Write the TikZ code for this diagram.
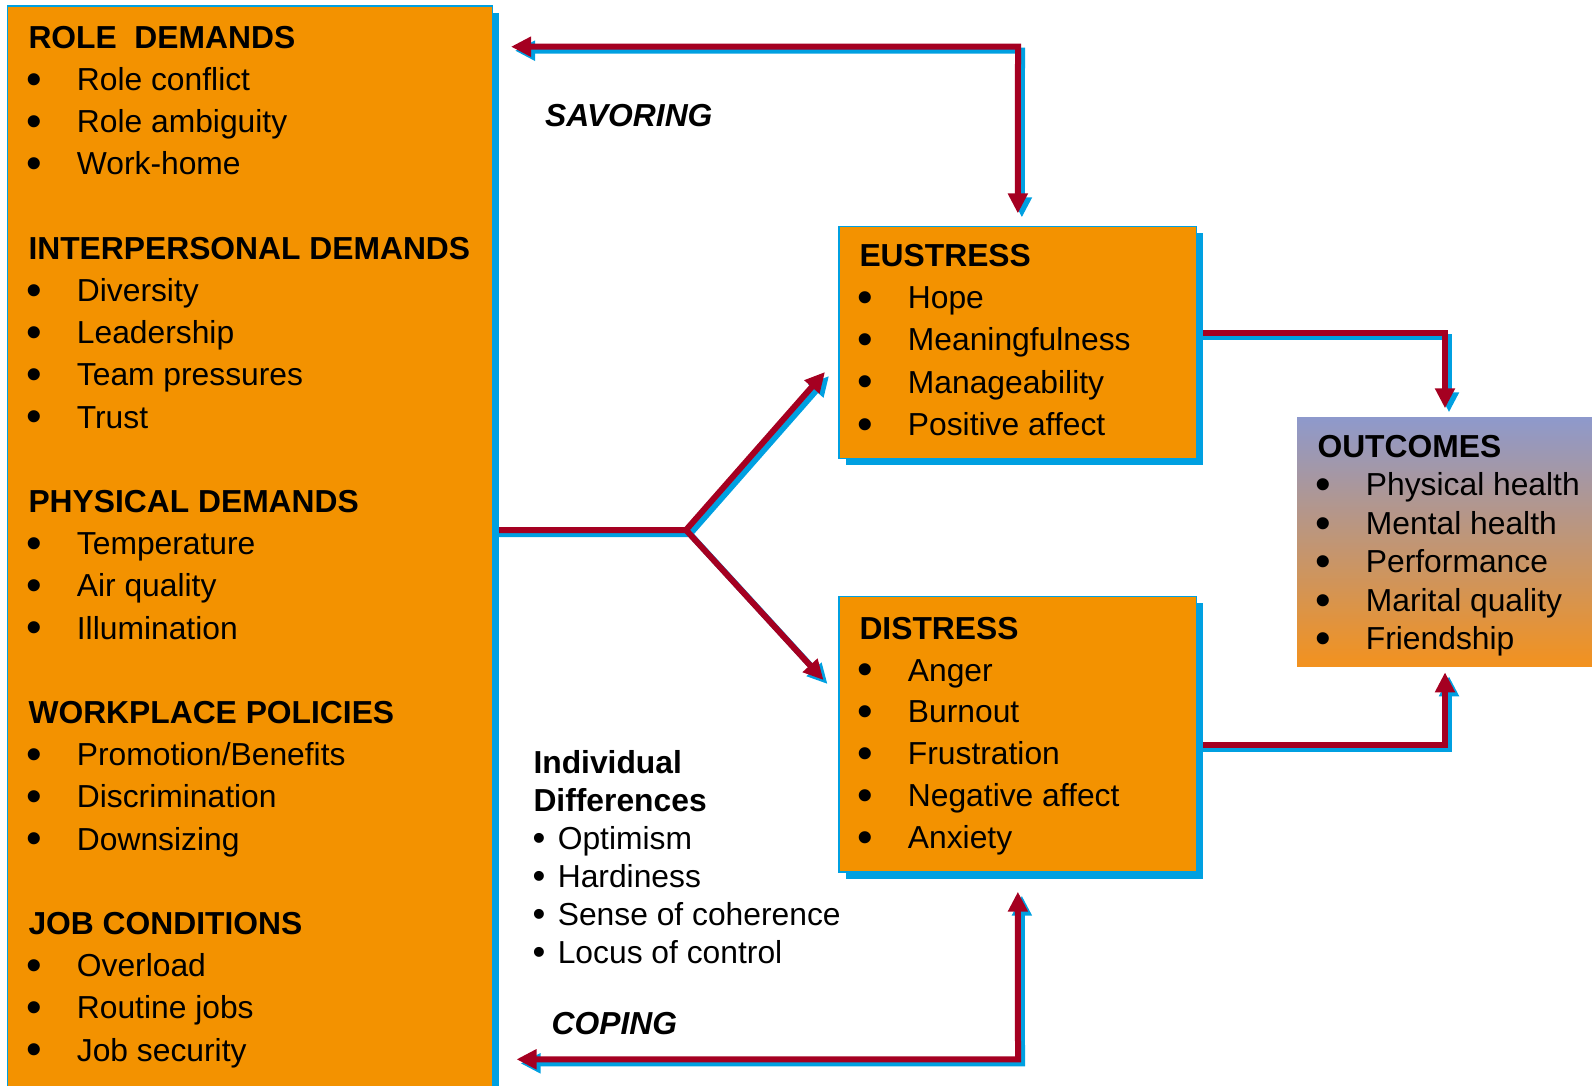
\documentclass[tikz,border=0pt]{standalone}
\usepackage{fontspec}
\setmainfont{Liberation Sans}
\usetikzlibrary{arrows.meta,shadows}

\definecolor{boxorange}{RGB}{243,146,0}
\definecolor{edgeblue}{RGB}{0,160,225}
\definecolor{linkred}{RGB}{165,0,33}
\definecolor{outtop}{RGB}{142,153,204}
\definecolor{outbot}{RGB}{243,146,30}

\pgfdeclarelayer{back}
\pgfsetlayers{back,main}

% enlarged bullets followed by a tab stop
\newcommand\bul{\hspace*{-2.2pt}\smash{\raisebox{-0.12em}{\scalebox{1.4}{•}}}}
\newcommand\sbul{\hspace*{-1pt}\smash{\raisebox{-0.05em}{\scalebox{1.15}{•}}}}
\newcommand\itm{\makebox[48.4pt][l]{\bul}}
\newcommand\sitm{\makebox[24.3pt][l]{\sbul}}

\begin{document}
\begin{tikzpicture}[x=1pt,y=-1pt,
  >={Triangle[length=20pt,width=19pt]},
  every node/.style={font=\fontsize{31.8}{38}\selectfont},
  txt/.style={inner sep=0pt, anchor=base west},
  label/.style={txt, font=\fontsize{31.8}{38}\selectfont\bfseries\itshape},
  panel/.style={draw=edgeblue, line width=1.5pt, fill=boxorange,
    inner sep=0pt, outer sep=0pt, anchor=north west,
    copy shadow={shadow xshift=6.5pt, shadow yshift=-6.5pt, fill=edgeblue, draw=none}},
  result/.style={draw=none, top color=outtop, bottom color=outbot,
    inner sep=0pt, outer sep=0pt, anchor=north west},
  link/.style={draw=linkred, line width=6pt},
  linkshade/.style={draw=edgeblue, line width=6pt, transform canvas={shift={(4pt,-4pt)}}},
]
\useasboundingbox (0,0) rectangle (1592,1085);
\clip (0,0) rectangle (1592,1085);

% boxes
\node[panel, minimum width=485pt, minimum height=1094pt] (demands) at (7.5,6) {};
\node[panel, minimum width=357.7pt, minimum height=232pt] (eustress) at (839,226.4) {};
\node[panel, minimum width=357.7pt, minimum height=275.3pt] (distress) at (839,596.7) {};
\node[result, minimum width=296pt, minimum height=249.4pt] (outcomes) at (1297,417.3) {};

% stressor list
\foreach \k/\entry in {
  0/{\bfseries ROLE\ \ DEMANDS}, 1/{\itm Role conflict}, 2/{\itm Role ambiguity}, 3/{\itm Work-home},
  5/{\bfseries INTERPERSONAL DEMANDS}, 6/{\itm Diversity}, 7/{\itm Leadership}, 8/{\itm Team pressures}, 9/{\itm Trust},
  11/{\bfseries PHYSICAL DEMANDS}, 12/{\itm Temperature}, 13/{\itm Air quality}, 14/{\itm Illumination},
  16/{\bfseries WORKPLACE POLICIES}, 17/{\itm Promotion/Benefits}, 18/{\itm Discrimination}, 19/{\itm Downsizing},
  21/{\bfseries JOB CONDITIONS}, 22/{\itm Overload}, 23/{\itm Routine jobs}, 24/{\itm Job security}}
  \node[txt] (dem-\k) at (28.3,{48.3+42.2*\k}) {\entry};

% eustress list
\foreach \k/\entry in {0/{\bfseries EUSTRESS}, 1/{\itm Hope}, 2/{\itm Meaningfulness},
  3/{\itm Manageability}, 4/{\itm Positive affect}}
  \node[txt] (eu-\k) at (859.3,{266.2+42.3*\k}) {\entry};

% distress list
\foreach \k/\entry in {0/{\bfseries DISTRESS}, 1/{\itm Anger}, 2/{\itm Burnout},
  3/{\itm Frustration}, 4/{\itm Negative affect}, 5/{\itm Anxiety}}
  \node[txt] (dis-\k) at (859.3,{639.3+41.8*\k}) {\entry};

% outcomes list
\foreach \k/\entry in {0/{\bfseries OUTCOMES}, 1/{\itm Physical health}, 2/{\itm Mental health},
  3/{\itm Performance}, 4/{\itm Marital quality}, 5/{\itm Friendship}}
  \node[txt] (out-\k) at (1317.3,{457.3+38.5*\k}) {\entry};

% individual differences
\foreach \k/\entry in {0/{\bfseries Individual}, 1/{\bfseries Differences}, 2/{\sitm Optimism},
  3/{\sitm Hardiness}, 4/{\sitm Sense of coherence}, 5/{\sitm Locus of control}}
  \node[txt] (ind-\k) at (533.3,{773.3+38*\k}) {\entry};

\node[label] (savoring) at (545,126.5) {SAVORING};
\node[label] (coping) at (551.4,1034) {COPING};

% connector routing points
\coordinate (sav) at (1018,46.7);
\coordinate (cop) at (1018,1059.3);
\coordinate (fork) at (686,530);
\coordinate (eutip) at (825,372);
\coordinate (distip) at (823.5,680);

\begin{pgfonlayer}{back}
  % savoring loop
  \draw[linkshade,<->,shorten <=18.5pt,shorten >=13pt] (demands.east |- sav) -- (sav) -- (eustress.north);
  \draw[link,<->,shorten <=18.5pt,shorten >=13pt] (demands.east |- sav) -- (sav) -- (eustress.north);
  % coping loop
  \draw[linkshade,<->,shorten <=24pt,shorten >=19.7pt] (demands.east |- cop) -- (cop) -- (distress.south);
  \draw[link,<->,shorten <=24pt,shorten >=19.7pt] (demands.east |- cop) -- (cop) -- (distress.south);
  % stressors split into eustress and distress
  \draw[linkshade,->] (demands.east |- fork) -- (fork) -- (eutip);
  \draw[linkshade,->] (fork) -- (distip);
  \draw[link,->] (demands.east |- fork) -- (fork) -- (eutip);
  \draw[link,->] (fork) -- (distip);
  % both lead to outcomes
  \draw[linkshade,->,shorten >=9pt] (eustress.east |- 0,333.3) -| (outcomes.north);
  \draw[link,->,shorten >=9pt] (eustress.east |- 0,333.3) -| (outcomes.north);
  \draw[linkshade,->,shorten >=5.6pt] (distress.east |- 0,745) -| (outcomes.south);
  \draw[link,->,shorten >=5.6pt] (distress.east |- 0,745) -| (outcomes.south);
\end{pgfonlayer}
\end{tikzpicture}
\end{document}
